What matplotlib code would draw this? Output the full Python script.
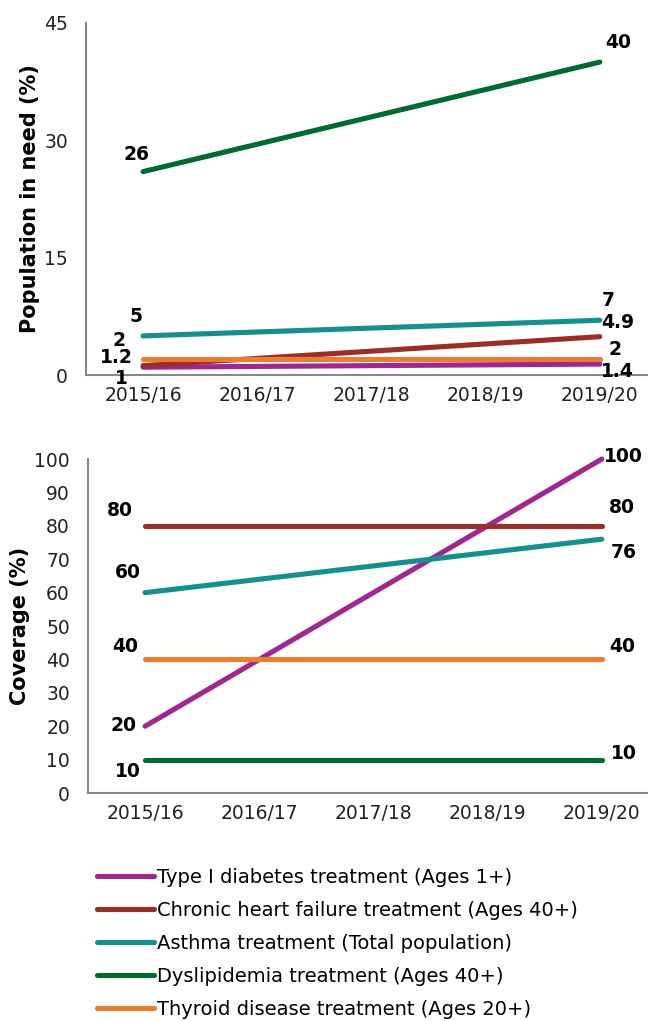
import matplotlib
matplotlib.use("Agg")
import matplotlib.pyplot as plt

years = ["2015/16", "2016/17", "2017/18", "2018/19", "2019/20"]
series = ["Type I diabetes treatment (Ages 1+)",
          "Chronic heart failure treatment (Ages 40+)",
          "Asthma treatment (Total population)",
          "Dyslipidemia treatment (Ages 40+)",
          "Thyroid disease treatment (Ages 20+)"]
colors = ["#A0278F", "#9A2F2A", "#15908E", "#006B31", "#E87D34"]

# first and last year only
need_start = [1, 1.2, 5, 26, 2]
need_end = [1.4, 4.9, 7, 40, 2]
need_labels_start = ["1", "1.2", "5", "26", "2"]
need_labels_end = ["1.4", "4.9", "7", "40", "2"]

cov_start = [20, 80, 60, 10, 40]
cov_end = [100, 80, 76, 10, 40]

# label offsets in pixels (left, right)
need_off = [((-22, -11), (18, -7)), ((-27, 8), (18, 14)), ((-7, 19), (8, 20)),
            ((-7, 17), (18, 20)), ((-24, 19), (15, 10))]
cov_off = [((-22, 1), (22, 3)), ((-25, 15), (20, 18)), ((-17, 20), (22, -13)),
           ((-17, -12), (22, 6)), ((-20, 13), (20, 13))]

plt.rcParams["font.family"] = ["DejaVu Sans"]
fig = plt.figure(figsize=(6.48, 10.21), dpi=100)
ax1 = fig.add_axes([0.1327, 0.6327, 0.881, 0.3448])
ax2 = fig.add_axes([0.1358, 0.2233, 0.881, 0.3271])


def draw(ax, start, end, labels_s, labels_e, offs, ymax, step, ylabel):
    xs = [0, len(years) - 1]
    lines = []
    for i in range(len(series)):
        ln, = ax.plot(xs, [start[i], end[i]], color=colors[i], lw=3.7,
                      solid_capstyle="round", clip_on=False, label=series[i])
        lines.append(ln)
        ax.annotate(labels_s[i], (xs[0], start[i]), xytext=offs[i][0],
                    textcoords="offset pixels", ha="center", va="center",
                    fontsize=13.5, fontweight="bold", annotation_clip=False)
        ax.annotate(labels_e[i], (xs[1], end[i]), xytext=offs[i][1],
                    textcoords="offset pixels", ha="center", va="center",
                    fontsize=13.5, fontweight="bold", annotation_clip=False)
    ax.set_xlim(-0.5, 4.5)
    ax.set_ylim(0, ymax)
    ax.set_yticks(range(0, ymax + 1, step))
    ax.set_xticks(range(len(years)))
    ax.set_xticklabels(years)
    for s in ["top", "right"]:
        ax.spines[s].set_visible(False)
    for s in ["left", "bottom"]:
        ax.spines[s].set_color("#888888")
        ax.spines[s].set_linewidth(1.5)
    ax.tick_params(length=0, labelsize=13.5, colors="#222222")
    ax.tick_params(axis="y", pad=13)
    ax.tick_params(axis="x", pad=8)
    ax.set_ylabel(ylabel, fontsize=15, fontweight="bold", labelpad=3)
    return lines


draw(ax1, need_start, need_end, need_labels_start, need_labels_end, need_off,
     45, 15, "Population in need (%)")
lines = draw(ax2, cov_start, cov_end, [str(v) for v in cov_start],
             [str(v) for v in cov_end], cov_off, 100, 10, "Coverage (%)")

fig.legend(handles=lines, loc="upper left", bbox_to_anchor=(0.15, 0.150),
           frameon=False, fontsize=14, handlelength=2.9, handletextpad=0.2,
           labelspacing=0.72, borderaxespad=0, borderpad=0)

fig.savefig("out.png", dpi=100)
